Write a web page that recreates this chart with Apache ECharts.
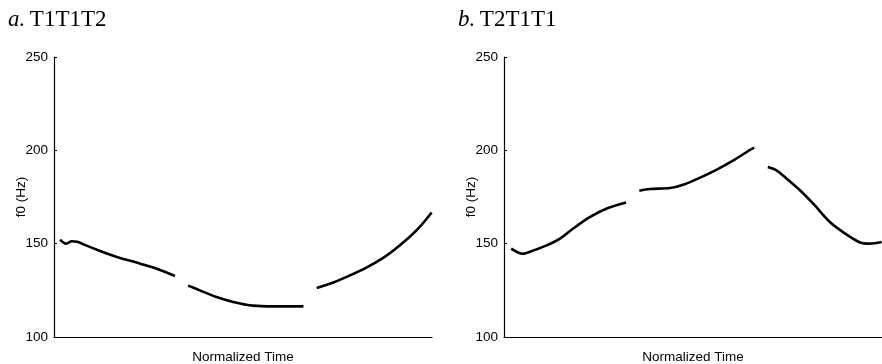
<!DOCTYPE html>
<html>
<head>
<meta charset="utf-8">
<script src="https://cdn.jsdelivr.net/npm/echarts@6/dist/echarts.min.js"></script>
<style>
html,body{margin:0;padding:0;background:#fff;}
#chart{width:882px;height:364px;}
</style>
</head>
<body>
<div id="chart"></div>
<script>
// Panel a: T1T1T2 (null = gap between syllables)
var aTime = [0.016,0.032,0.047,0.064,0.078,0.122,0.166,0.228,0.272,0.320, 0.337,
             0.355,0.386,0.430,0.474,0.527,0.580,0.660, 0.678,
             0.695,0.739,0.783,0.830,0.871,0.898,0.942,0.970,0.999];
var aF0   = [152.2,150.0,151.3,150.9,149.6,146.1,142.9,139.3,136.6,132.7, null,
             127.5,125.0,121.4,118.8,116.8,116.4,116.4, null,
             126.2,129.2,133.0,137.6,142.4,146.3,153.8,159.5,166.7];
// Panel b: T2T1T1
var bTime = [0.019,0.049,0.078,0.113,0.148,0.183,0.228,0.272,0.323, 0.340,
             0.358,0.386,0.439,0.474,0.519,0.563,0.607,0.642,0.662, 0.680,
             0.698,0.721,0.748,0.783,0.818,0.862,0.897,0.942,0.968,0.999];
var bF0   = [147.3,144.6,146.4,149.1,152.7,158.1,164.3,168.8,172.0, null,
             178.4,179.3,179.8,181.6,185.4,189.7,194.6,199.1,201.4, null,
             191.1,189.3,184.8,178.6,171.4,161.6,156.2,150.6,150.0,150.9];
var yTicks = [100,150,200,250];
var panelTitles = ['T1T1T2','T2T1T1'];
var panelLetters = ['a.','b.'];

function segments(t, v, axisIdx){
  var out = [], cur = [];
  for (var i=0;i<t.length;i++){
    if (v[i] === null){ if(cur.length) out.push(cur); cur=[]; }
    else cur.push([t[i], v[i]]);
  }
  if (cur.length) out.push(cur);
  return out.map(function(d){
    return {type:'line', xAxisIndex:axisIdx, yAxisIndex:axisIdx, data:d,
      showSymbol:false, smooth:0.3, animation:false,
      lineStyle:{color:'#000', width:2.6}, silent:true};
  });
}

var chart = echarts.init(document.getElementById('chart'), null, {renderer:'canvas'});
var font = 'Liberation Sans, Arial, Helvetica, sans-serif';
function yAx(i){
  return {gridIndex:i, type:'value', min:yTicks[0], max:yTicks[yTicks.length-1], interval:50,
    name:'f0 (Hz)', nameLocation:'middle', nameGap:26, nameRotate:90, nameMoveOverlap:false,
    nameTextStyle:{fontFamily:font, fontSize:13.5, color:'#000'},
    axisLine:{show:true, lineStyle:{color:'#000', width:1.2}},
    axisTick:{show:true, inside:true, length:3, lineStyle:{color:'#000', width:1}},
    axisLabel:{fontFamily:font, fontSize:13.5, color:'#000', margin:6},
    splitLine:{show:false}};
}
function xAx(i){
  return {gridIndex:i, type:'value', min:0, max:1,
    name:'Normalized Time', nameLocation:'middle', nameGap:13,
    nameTextStyle:{fontFamily:font, fontSize:13.5, color:'#000'},
    axisLine:{show:true, onZero:false, lineStyle:{color:'#000', width:1.2}},
    axisTick:{show:false}, axisLabel:{show:false}, splitLine:{show:false}};
}
var serif = 'Liberation Serif, Times New Roman, serif';
var titleRich = {
  i:{fontFamily:serif, fontStyle:'italic', fontWeight:'normal', fontSize:23, color:'#000'},
  r:{fontFamily:serif, fontWeight:'normal', fontSize:23, color:'#000'}
};
chart.setOption({
  backgroundColor:'#fff',
  title:[
    {left:3, top:3, text:'{i|'+panelLetters[0]+'}{r|\u2009'+panelTitles[0]+'}', textStyle:{fontWeight:'normal', rich:titleRich}},
    {left:453, top:3, text:'{i|'+panelLetters[1]+'}{r|\u2009'+panelTitles[1]+'}', textStyle:{fontWeight:'normal', rich:titleRich}}
  ],
  grid:[
    {left:54, top:57, width:378, height:280, containLabel:false, outerBoundsMode:'none'},
    {left:504, top:57, width:378, height:280, containLabel:false, outerBoundsMode:'none'}
  ],
  xAxis:[xAx(0), xAx(1)],
  yAxis:[yAx(0), yAx(1)],
  series: segments(aTime, aF0, 0).concat(segments(bTime, bF0, 1))
});
</script>
</body>
</html>
